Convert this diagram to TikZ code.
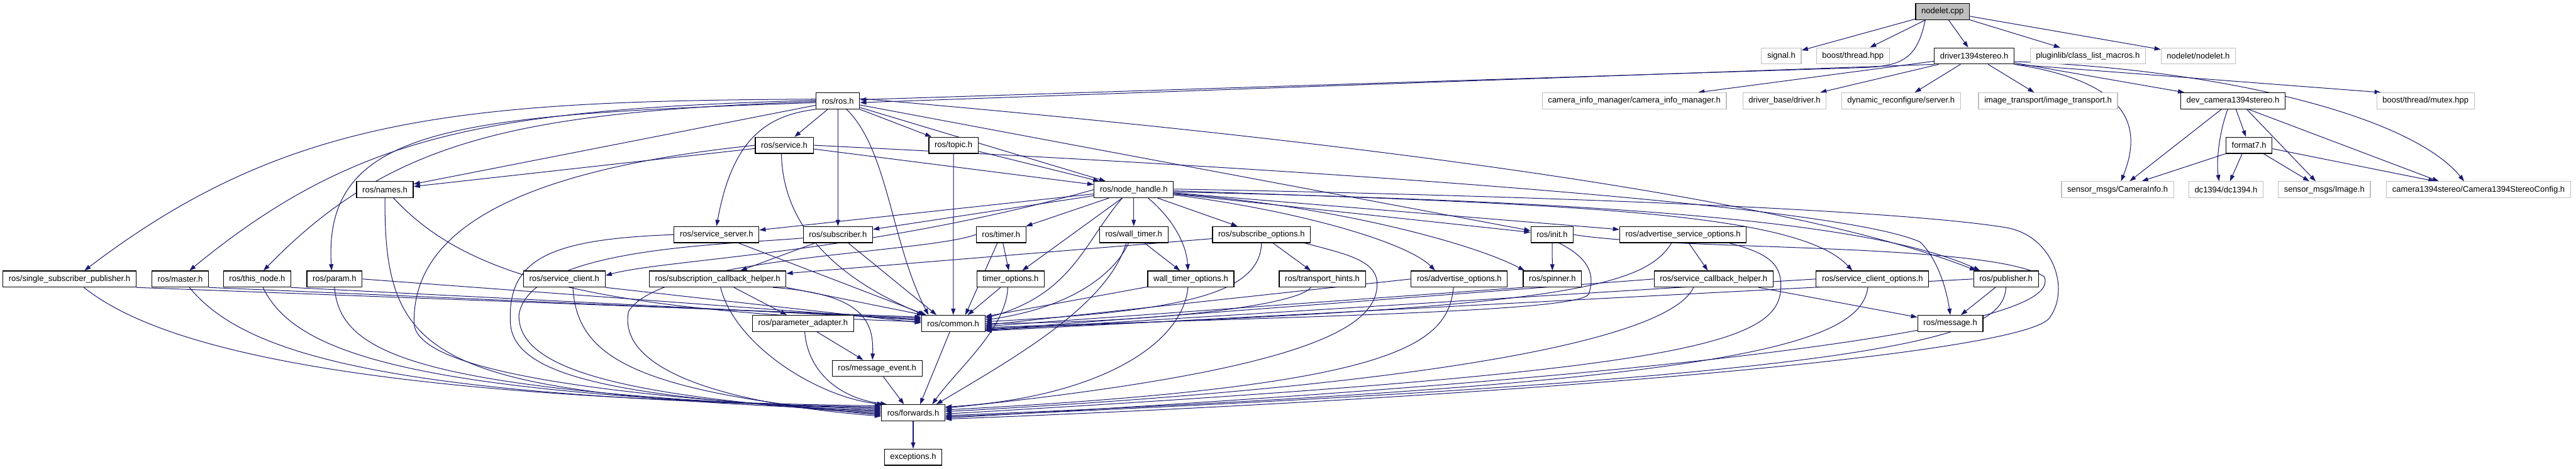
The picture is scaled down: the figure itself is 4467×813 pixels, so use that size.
\documentclass[tikz,border=0pt]{standalone}
\usepackage{fontspec}
\setmainfont{Liberation Sans}
\usetikzlibrary{arrows.meta,backgrounds}
\definecolor{edgec}{HTML}{191970}
\definecolor{extc}{HTML}{BFBFBF}
\begin{document}
\begin{tikzpicture}[x=1pt,y=1pt,
  base/.style={rectangle, minimum height=28pt, inner xsep=10pt, inner ysep=0pt, line width=1.3pt, fill=white, font=\fontsize{14.2}{16}\selectfont, text=black},
  doc/.style={base, draw=black},
  ext/.style={base, draw=extc},
  root/.style={base, draw=black, fill=extc},
  e/.style={draw=edgec, line width=1.1pt, -{Triangle[length=11pt,width=7.5pt]}}]
\useasboundingbox (0,0) rectangle (4467,-813);
% nodes
\node[root] (N) at (3368.5,-20) {nodelet.cpp};
\node[ext] (sig) at (3089,-97) {signal.h};
\node[ext] (bth) at (3213,-97) {boost/thread.hpp};
\node[doc] (drv) at (3423.5,-97) {driver1394stereo.h};
\node[ext] (plug) at (3620.5,-97) {pluginlib/class\_list\_macros.h};
\node[ext] (nnh) at (3812,-97) {nodelet/nodelet.h};
\node[doc] (ros) at (1453,-175) {ros/ros.h};
\node[ext] (cim) at (2834,-175) {camera\_info\_manager/camera\_info\_manager.h};
\node[ext] (dbd) at (3094.5,-175) {driver\_base/driver.h};
\node[ext] (dyn) at (3296.5,-175) {dynamic\_reconfigure/server.h};
\node[ext] (imt) at (3551.5,-175) {image\_transport/image\_transport.h};
\node[doc] (devc) at (3872,-175) {dev\_camera1394stereo.h};
\node[ext] (mtx) at (4206,-175) {boost/thread/mutex.hpp};
\node[doc] (srv) at (1360,-252) {ros/service.h};
\node[doc] (top) at (1653.5,-252) {ros/topic.h};
\node[doc] (f7) at (3900,-252) {format7.h};
\node[doc] (nam) at (667.5,-329) {ros/names.h};
\node[doc] (nh) at (1966,-329) {ros/node\_handle.h};
\node[ext] (cami) at (3672,-329) {sensor\_msgs/CameraInfo.h};
\node[ext] (dc) at (3860,-329) {dc1394/dc1394.h};
\node[ext] (img) at (4030.5,-329) {sensor\_msgs/Image.h};
\node[ext] (cfg) at (4298,-329) {camera1394stereo/Camera1394StereoConfig.h};
\node[doc] (ss) at (1242.5,-407) {ros/service\_server.h};
\node[doc] (sub) at (1453,-407) {ros/subscriber.h};
\node[doc] (tim) at (1736,-407) {ros/timer.h};
\node[doc] (wt) at (1966,-407) {ros/wall\_timer.h};
\node[doc] (so) at (2187.5,-407) {ros/subscribe\_options.h};
\node[doc] (ini) at (2691.5,-407) {ros/init.h};
\node[doc] (aso) at (2918.5,-407) {ros/advertise\_service\_options.h};
\node[doc] (ssp) at (120.5,-484) {ros/single\_subscriber\_publisher.h};
\node[doc] (mas) at (312.5,-484) {ros/master.h};
\node[doc] (thn) at (446,-484) {ros/this\_node.h};
\node[doc] (par) at (580,-484) {ros/param.h};
\node[doc] (sc) at (978.5,-484) {ros/service\_client.h};
\node[doc] (sch) at (1244.5,-484) {ros/subscription\_callback\_helper.h};
\node[doc] (to) at (1752.5,-484) {timer\_options.h};
\node[doc] (wto) at (2065,-484) {wall\_timer\_options.h};
\node[doc] (th) at (2293,-484) {ros/transport\_hints.h};
\node[doc] (ao) at (2530.5,-484) {ros/advertise\_options.h};
\node[doc] (spin) at (2692,-484) {ros/spinner.h};
\node[doc] (scbh) at (2971.5,-484) {ros/service\_callback\_helper.h};
\node[doc] (sco) at (3247,-484) {ros/service\_client\_options.h};
\node[doc] (pub) at (3478.5,-484) {ros/publisher.h};
\node[doc] (pa) at (1392.5,-561) {ros/parameter\_adapter.h};
\node[doc] (com) at (1653,-561) {ros/common.h};
\node[doc] (msg) at (3382,-561) {ros/message.h};
\node[doc] (me) at (1521,-639) {ros/message\_event.h};
\node[doc] (fw) at (1583.5,-716) {ros/forwards.h};
\node[doc] (exc) at (1583.5,-793) {exceptions.h};
% edges
\begin{pgfonlayer}{background}
\fill[white] (0,0) rectangle (4467,-813);
% nodelet.cpp
\draw[e] (N) -- (sig);
\draw[e] (N) -- (bth);
\draw[e] (N) -- (drv);
\draw[e] (N) -- (plug);
\draw[e] (N) -- (nnh);
\draw[e] ([xshift=-30pt]N.south) .. controls (3325,-100) and (3300,-113) .. (3240,-117) -- ([yshift=2pt]ros.east);
% driver1394stereo.h
\draw[e] (drv.south west) -- ([yshift=-3pt]ros.east);
\draw[e] (drv) -- (cim);
\draw[e] (drv) -- (dbd);
\draw[e] (drv) -- (dyn);
\draw[e] (drv) -- (imt);
\draw[e] (drv) -- (devc);
\draw[e] (drv.-12) -- ([xshift=8pt]mtx.north west);
\draw[e] (drv.south east) .. controls (3680,-140) and (3720,-210) .. ([xshift=6pt]cami.north);
\draw[e] (drv.-8) .. controls (3850,-120) and (4180,-200) .. ([xshift=-25pt]cfg.north);
% dev_camera1394stereo.h
\draw[e] (devc) -- (f7);
\draw[e] ([xshift=-20pt]devc.south) -- ([xshift=21pt]cami.north);
\draw[e] ([xshift=-9pt]devc.south) .. controls (3848,-230) and (3843,-280) .. ([xshift=-12pt]dc.north);
\draw[e] ([xshift=24pt]devc.south) -- ([xshift=-15pt]img.north);
\draw[e] ([xshift=27pt]devc.south) -- ([xshift=-69pt]cfg.north);
% format7.h
\draw[e] (f7.south west) -- ([xshift=42pt]cami.north);
\draw[e] ([xshift=-12pt]f7.south) -- ([xshift=7pt]dc.north);
\draw[e] ([xshift=25pt]f7.south) -- ([xshift=-26pt]img.north);
\draw[e] ([yshift=-6pt]f7.east) -- ([xshift=-76pt]cfg.north);
% ros/ros.h
\draw[e] ([yshift=3pt]ros.west) .. controls (800,-175) and (500,-200) .. ([xshift=26pt]ssp.north);
\draw[e] ([yshift=1pt]ros.west) .. controls (850,-190) and (620,-230) .. ([xshift=16pt]mas.north);
\draw[e] ([yshift=-1pt]ros.west) .. controls (900,-195) and (680,-240) .. ([xshift=11pt]thn.north);
\draw[e] ([yshift=-3pt]ros.west) .. controls (800,-200) and (560,-215) .. ([xshift=-5pt]par.north);
\draw[e] (ros) -- (nam);
\draw[e] (ros) -- (srv);
\draw[e] (ros.south west) .. controls (1330,-200) and (1270,-240) .. (ss.north);
\draw[e] (ros) -- (sub);
\draw[e] ([xshift=15pt]ros.south) .. controls (1540,-260) and (1545,-420) .. ([xshift=-43pt]com.north);
\draw[e] (ros) -- (top);
\draw[e] (ros) -- (nh);
\draw[e] (ros) -- (ini);
\draw[e] ([yshift=4pt]ros.east) .. controls (2300,-240) and (3100,-340) .. ([xshift=-52pt]pub.north);
% ros/service.h
\draw[e] (srv) -- (nam);
\draw[e] (srv.west) .. controls (850,-300) and (716,-420) .. (718,-560) .. controls (720,-650) and (1100,-690) .. ([yshift=2pt]fw.west);
\draw[e] ([xshift=-5pt]srv.south) .. controls (1357,-370) and (1420,-470) .. ([xshift=-50pt]com.north);
\draw[e] (srv) -- (nh);
\draw[e] (srv.east) .. controls (2400,-300) and (3200,-360) .. (3330,-420) .. controls (3360,-450) and (3375,-500) .. (msg.north);
% ros/topic.h
\draw[e] (top) -- (com);
\draw[e] (top) -- (nh);
% ros/node_handle.h
\draw[e] (nh) -- (ss);
\draw[e] (nh) -- (sub);
\draw[e] (nh) -- (tim);
\draw[e] (nh) -- (to);
\draw[e] (nh) -- (wt);
\draw[e] ([xshift=25pt]nh.south) .. controls (2040,-385) and (2058,-430) .. ([xshift=-5pt]wto.north);
\draw[e] (nh) -- (so);
\draw[e] ([xshift=-20pt]nh.south) .. controls (1880,-420) and (1860,-510) .. ([yshift=9pt]com.east);
\draw[e] (nh) -- (ini);
\draw[e] (nh) -- (aso);
\draw[e] ([yshift=-9pt]nh.east) .. controls (2250,-365) and (2440,-420) .. ([xshift=-42pt]ao.north);
\draw[e] ([yshift=-7pt]nh.east) .. controls (2300,-355) and (2550,-420) .. ([xshift=3pt]spin.north west);
\draw[e] ([yshift=-2pt]nh.east) .. controls (2750,-355) and (3120,-370) .. ([xshift=-35pt]sco.north);
\draw[e] ([yshift=-4pt]nh.east) .. controls (2800,-350) and (3250,-385) .. ([xshift=-45pt]pub.north);
\draw[e] (nh.west) .. controls (1500,-440) and (1150,-450) .. ([yshift=6pt]sc.east);
\draw[e] ([yshift=1pt]nh.east) .. controls (2700,-340) and (3300,-365) .. (3480,-395) .. controls (3560,-410) and (3590,-500) .. (3555,-550) .. controls (3520,-615) and (2600,-690) .. ([yshift=-11pt]fw.east);
% row 6
\draw[e] (ss) -- ([xshift=-47pt]com.north);
\draw[e] (ss.west) .. controls (950,-415) and (880,-450) .. (885,-560) .. controls (890,-660) and (1100,-690) .. ([yshift=0pt]fw.west);
\draw[e] (sub) -- ([xshift=-29pt]com.north);
\draw[e] (sub) -- (sch);
\draw[e] ([yshift=-6pt]sub.west) .. controls (1250,-425) and (920,-430) .. (900,-545) .. controls (895,-650) and (1120,-690) .. ([yshift=-2pt]fw.west);
\draw[e] (tim) -- (to);
\draw[e] (tim) -- ([xshift=21pt]com.north);
\draw[e] (tim.west) .. controls (1600,-440) and (1150,-445) .. (1090,-540) .. controls (1070,-640) and (1250,-700) .. ([yshift=-6pt]fw.west);
\draw[e] (wt) -- (wto);
\draw[e] ([xshift=-9pt]wt.south) .. controls (1930,-480) and (1850,-535) .. ([yshift=6pt]com.east);
\draw[e] ([xshift=-13pt]wt.south) .. controls (1920,-530) and (1760,-620) .. ([xshift=40pt]fw.north);
\draw[e] (so) -- (sch);
\draw[e] (so) -- (th);
\draw[e] (so.south) .. controls (2185,-510) and (2050,-540) .. ([yshift=3pt]com.east);
\draw[e] ([xshift=75pt]so.south) .. controls (2330,-440) and (2385,-450) .. (2388,-490) .. controls (2390,-560) and (2300,-640) .. ([yshift=8pt]fw.east);
\draw[e] (ini) -- (spin);
\draw[e] ([xshift=12pt]ini.south) .. controls (2760,-450) and (2765,-480) .. (2755,-510) .. controls (2740,-540) and (2300,-548) .. ([yshift=-7pt]com.east);
\draw[e] (ini.east) .. controls (2900,-435) and (3450,-420) .. (3545,-480) .. controls (3560,-520) and (3500,-620) .. ([yshift=-9pt]fw.east);
\draw[e] (aso) -- (scbh);
\draw[e] ([xshift=-20pt]aso.south) .. controls (2850,-500) and (2700,-535) .. ([yshift=-9pt]com.east);
\draw[e] ([xshift=80pt]aso.south) .. controls (3070,-440) and (3090,-460) .. (3088,-500) .. controls (3085,-600) and (2900,-645) .. ([yshift=-2pt]fw.east);
% row 7
\draw[e] (ssp.south east) -- ([yshift=11pt]com.west);
\draw[e] (mas.south east) -- ([yshift=9pt]com.west);
\draw[e] (thn.south east) -- ([yshift=7pt]com.west);
\draw[e] (par.east) -- ([yshift=5pt]com.west);
\draw[e] ([xshift=15pt]nam.south) .. controls (800,-470) and (1000,-540) .. ([yshift=3pt]com.west);
\draw[e] (sc.south east) -- ([yshift=1pt]com.west);
\draw[e] ([xshift=25pt]ssp.south) .. controls (260,-590) and (560,-690) .. ([yshift=12pt]fw.west);
\draw[e] ([xshift=16pt]mas.south) .. controls (420,-610) and (650,-690) .. ([yshift=10pt]fw.west);
\draw[e] ([xshift=10pt]thn.south) .. controls (510,-610) and (700,-685) .. ([yshift=8pt]fw.west);
\draw[e] (par.south) .. controls (590,-615) and (720,-680) .. ([yshift=6pt]fw.west);
\draw[e] (nam.south) .. controls (666,-630) and (750,-685) .. ([yshift=4pt]fw.west);
\draw[e] ([xshift=15pt]sc.south) .. controls (1000,-620) and (1100,-680) .. ([yshift=-4pt]fw.west);
\draw[e] (sch) -- (pa);
\draw[e] ([xshift=96pt]sch.south) .. controls (1500,-510) and (1515,-560) .. ([xshift=-8pt]me.north);
\draw[e] (sch.south east) -- ([xshift=-52pt]com.north);
\draw[e] ([xshift=5pt]sch.south) .. controls (1275,-600) and (1420,-690) .. ([xshift=4pt]fw.north west);
\draw[e] (to) -- ([xshift=25pt]com.north);
\draw[e] ([xshift=-5pt]to.south) .. controls (1745,-570) and (1660,-640) .. ([xshift=33pt]fw.north);
\draw[e] (wto) -- ([yshift=12pt]com.east);
\draw[e] ([xshift=-5pt]wto.south) .. controls (2050,-600) and (1900,-690) .. ([yshift=10pt]fw.east);
\draw[e] ([xshift=-20pt]th.south) .. controls (2250,-530) and (2000,-560) .. ([yshift=0pt]com.east);
\draw[e] (ao.west) -- ([yshift=-3pt]com.east);
\draw[e] ([xshift=-10pt]ao.south) .. controls (2510,-600) and (2420,-670) .. ([yshift=5pt]fw.east);
\draw[e] (spin.south west) -- ([yshift=-5pt]com.east);
\draw[e] (scbh) -- (msg);
\draw[e] (scbh.west) -- ([yshift=-11pt]com.east);
\draw[e] ([xshift=-35pt]scbh.south) .. controls (2900,-580) and (2550,-665) .. ([yshift=2pt]fw.east);
\draw[e] (sco.west) -- ([yshift=-12pt]com.east);
\draw[e] ([xshift=-8pt]sco.south) .. controls (3225,-600) and (3000,-665) .. ([yshift=-5pt]fw.east);
\draw[e] (pub) -- (msg);
\draw[e] (pub.west) -- ([yshift=-13pt]com.east);
\draw[e] (pub.south) .. controls (3472,-580) and (3350,-650) .. ([yshift=-7pt]fw.east);
% lower
\draw[e] (pa) -- (me);
\draw[e] ([xshift=3pt]pa.south) .. controls (1400,-640) and (1450,-690) .. ([xshift=10pt]fw.north west);
\draw[e] (me) -- ([xshift=-16pt]fw.north);
\draw[e] (com) -- ([xshift=12pt]fw.north);
\draw[e] (fw) -- (exc);
\end{pgfonlayer}
\end{tikzpicture}
\end{document}
